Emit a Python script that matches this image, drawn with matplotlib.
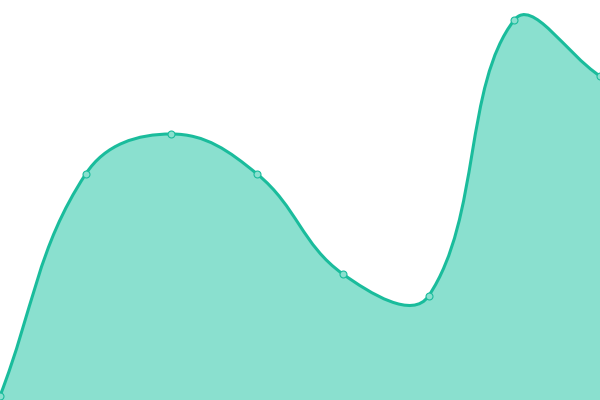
import matplotlib
matplotlib.use("Agg")
import matplotlib.pyplot as plt
from matplotlib.path import Path
from matplotlib.patches import PathPatch
import numpy as np

x_values = [0, 1, 2, 3, 4, 5, 6, 7]
y_values = [1, 56.5, 66.5, 56.5, 31.5, 26, 95, 81]

line_color = "#1abc9c"
fill_color = "#8ae0cf"
tension = 0.4

fig = plt.figure(figsize=(6, 4), dpi=100)
ax = fig.add_axes([0, 0, 1, 1])
ax.set_xlim(0, 7)
ax.set_ylim(0, 100)
ax.axis("off")

# work in pixel-proportional space for distance weighting
sx, sy = 600 / 7.0, 4.0
pts = np.column_stack([np.array(x_values) * sx, np.array(y_values) * sy]).astype(float)
n = len(pts)
cp_prev = np.zeros_like(pts)
cp_next = np.zeros_like(pts)
for i in range(n):
    p0 = pts[i - 1] if i > 0 else pts[i]
    p1 = pts[i]
    p2 = pts[i + 1] if i + 1 < n else pts[i]
    d01 = np.hypot(*(p1 - p0))
    d12 = np.hypot(*(p2 - p1))
    s01 = d01 / (d01 + d12)
    s12 = d12 / (d01 + d12)
    fa = tension * s01
    fb = tension * s12
    cp_prev[i] = p1 - fa * (p2 - p0)
    cp_next[i] = p1 + fb * (p2 - p0)

def to_data(p):
    return (p[0] / sx, p[1] / sy)

verts = [to_data(pts[0])]
codes = [Path.MOVETO]
for i in range(n - 1):
    verts += [to_data(cp_next[i]), to_data(cp_prev[i + 1]), to_data(pts[i + 1])]
    codes += [Path.CURVE4] * 3

line_path = Path(verts, codes)
fill_verts = verts + [(x_values[-1], -5), (x_values[0], -5), verts[0]]
fill_codes = codes + [Path.LINETO, Path.LINETO, Path.CLOSEPOLY]
fill_path = Path(fill_verts, fill_codes)

ax.add_patch(PathPatch(fill_path, facecolor=fill_color, edgecolor="none", zorder=1))
ax.add_patch(PathPatch(line_path, facecolor="none", edgecolor=line_color, lw=2.2, zorder=2, capstyle="round"))
ax.plot(x_values, y_values, linestyle="none", marker="o", markersize=5,
        markerfacecolor=fill_color, markeredgecolor=line_color, markeredgewidth=0.8, zorder=3)

fig.savefig("out.png", dpi=100)
